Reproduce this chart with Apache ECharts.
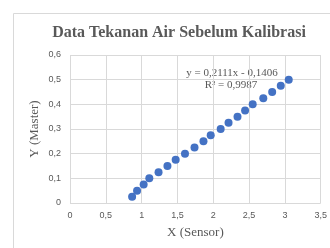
<!DOCTYPE html>
<html><head><meta charset="utf-8">
<script src="https://cdn.jsdelivr.net/npm/echarts@6/dist/echarts.min.js"></script>
<style>html,body{margin:0;padding:0;background:#fff}#c{width:330px;height:248px}</style>
</head><body><div id="c"></div>
<script>
var title = 'Data Tekanan Air Sebelum Kalibrasi';
var xName = 'X (Sensor)';
var yName = 'Y (Master)';
var sensorX = [0.867, 0.936, 1.028, 1.107, 1.236, 1.360, 1.475, 1.605, 1.738, 1.863, 1.964, 2.103, 2.213, 2.338, 2.444, 2.550, 2.698, 2.822, 2.942, 3.053];
var masterY = [0.025, 0.05, 0.075, 0.1, 0.125, 0.15, 0.175, 0.2, 0.225, 0.25, 0.275, 0.3, 0.325, 0.35, 0.375, 0.4, 0.425, 0.45, 0.475, 0.5];
var eqLine1 = 'y = 0,2111x - 0,1406';
var eqLine2 = 'R² = 0,9987';

var pts = sensorX.map(function(x, i){ return [x, masterY[i]]; });
var fmt = function(v){ return String(Math.round(v*10)/10).replace('.', ','); };
var chart = echarts.init(document.getElementById('c'));
chart.setOption({
  animation: false,
  graphic: [
    {type:'rect', shape:{x:13.5, y:13.5, width:330, height:250}, style:{fill:'none', stroke:'#d9d9d9', lineWidth:1}, z:-1},
    {type:'text', x:179, y:33, style:{text:title, font:'bold 16px "Liberation Serif"', fill:'#595959', textAlign:'center', textVerticalAlign:'middle'}},
    {type:'text', x:232, y:73, style:{text:eqLine1, font:'11px "Liberation Serif"', fill:'#595959', textAlign:'center', textVerticalAlign:'middle'}},
    {type:'text', x:231, y:85, style:{text:eqLine2, font:'11px "Liberation Serif"', fill:'#595959', textAlign:'center', textVerticalAlign:'middle'}},
    {type:'text', x:35, y:129, rotation:Math.PI/2, style:{text:yName, font:'13px "Liberation Serif"', fill:'#595959', textAlign:'center', textVerticalAlign:'middle'}}
  ],
  grid: {left:70, right:7, top:55, bottom:45},
  xAxis: {
    type:'value', min:0, max:3.5, interval:0.5,
    name:xName, nameLocation:'middle', nameGap:23,
    nameTextStyle:{fontFamily:'Liberation Serif', fontSize:13, color:'#595959'},
    axisLine:{show:false}, axisTick:{show:false},
    axisLabel:{formatter:fmt, color:'#595959', fontSize:9, fontFamily:'Liberation Sans', margin:8},
    splitLine:{show:true, lineStyle:{color:'#d9d9d9', width:1}}
  },
  yAxis: {
    type:'value', min:0, max:0.6, interval:0.1,
    axisLine:{show:false}, axisTick:{show:false},
    axisLabel:{formatter:fmt, color:'#595959', fontSize:9, fontFamily:'Liberation Sans', margin:9},
    splitLine:{show:true, lineStyle:{color:'#d9d9d9', width:1}}
  },
  series: [{
    type:'scatter', data:pts, symbol:'circle', symbolSize:8,
    itemStyle:{color:'#4472C4', opacity:1}
  }]
});
</script></body></html>
